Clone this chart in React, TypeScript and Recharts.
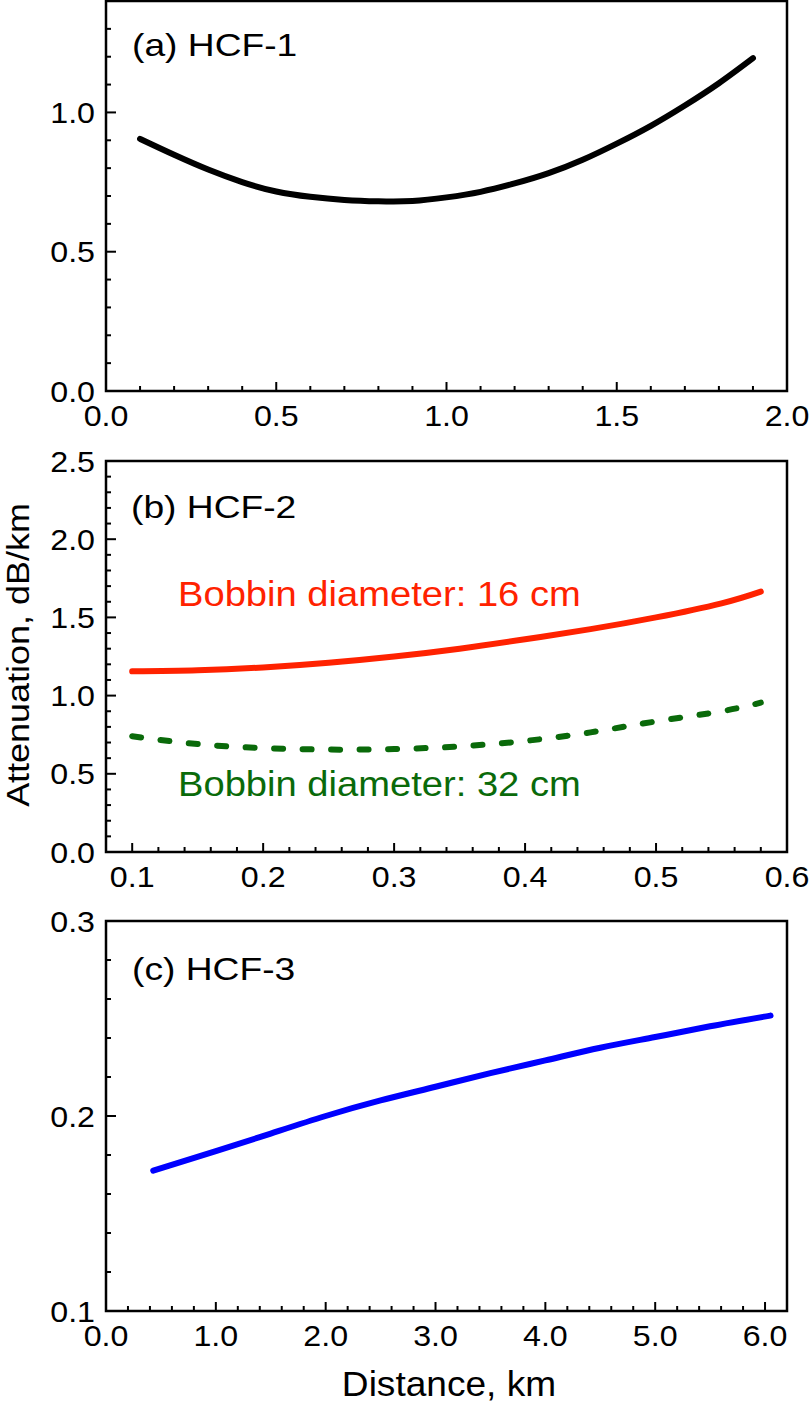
import { LineChart, Line, XAxis, YAxis, ReferenceArea } from "recharts";

const FONT = '"Liberation Sans", Arial, Helvetica, sans-serif';

// (a) HCF-1
const hcf1Distance = [0.1, 0.2, 0.3, 0.4, 0.5, 0.6, 0.7, 0.8, 0.9, 1.0, 1.1, 1.2, 1.3, 1.4, 1.5, 1.6, 1.7, 1.8, 1.9];
const hcf1Atten = [0.905, 0.848, 0.795, 0.75, 0.716, 0.697, 0.686, 0.681, 0.682, 0.695, 0.715, 0.745, 0.782, 0.83, 0.888, 0.952, 1.025, 1.105, 1.195];

// (b) HCF-2
const hcf2Distance = [0.1, 0.15, 0.2, 0.25, 0.3, 0.35, 0.4, 0.45, 0.5, 0.55, 0.58];
const bobbin16 = [1.155, 1.162, 1.18, 1.21, 1.25, 1.3, 1.36, 1.425, 1.5, 1.59, 1.665];
const bobbin32 = [0.74, 0.69, 0.665, 0.655, 0.658, 0.675, 0.71, 0.765, 0.835, 0.9, 0.955];

// (c) HCF-3
const hcf3Distance = [0.43, 1.0, 1.5, 2.0, 2.5, 3.0, 3.5, 4.0, 4.5, 5.0, 5.5, 6.05];
const hcf3Atten = [0.172, 0.182, 0.191, 0.2, 0.208, 0.215, 0.222, 0.2285, 0.235, 0.2405, 0.246, 0.2515];

// ticks (minor + major)
const xTicksA = [0, 0.1, 0.2, 0.3, 0.4, 0.5, 0.6, 0.7, 0.8, 0.9, 1.0, 1.1, 1.2, 1.3, 1.4, 1.5, 1.6, 1.7, 1.8, 1.9, 2.0];
const yTicksA = [0, 0.1, 0.2, 0.3, 0.4, 0.5, 0.6, 0.7, 0.8, 0.9, 1.0, 1.1, 1.2, 1.3];
const xTicksB = [0.1, 0.12, 0.14, 0.16, 0.18, 0.2, 0.22, 0.24, 0.26, 0.28, 0.3, 0.32, 0.34, 0.36, 0.38, 0.4, 0.42, 0.44, 0.46, 0.48, 0.5, 0.52, 0.54, 0.56, 0.58, 0.6];
const yTicksB = [0, 0.1, 0.2, 0.3, 0.4, 0.5, 0.6, 0.7, 0.8, 0.9, 1.0, 1.1, 1.2, 1.3, 1.4, 1.5, 1.6, 1.7, 1.8, 1.9, 2.0, 2.1, 2.2, 2.3, 2.4, 2.5];
const xTicksC = [0, 0.2, 0.4, 0.6, 0.8, 1, 1.2, 1.4, 1.6, 1.8, 2, 2.2, 2.4, 2.6, 2.8, 3, 3.2, 3.4, 3.6, 3.8, 4, 4.2, 4.4, 4.6, 4.8, 5, 5.2, 5.4, 5.6, 5.8, 6];
const yTicksC = [0.1, 0.12, 0.14, 0.16, 0.18, 0.2, 0.22, 0.24, 0.26, 0.28, 0.3];

const dataA = hcf1Distance.map((d, i) => ({ d, a: hcf1Atten[i] }));
const dataB = hcf2Distance.map((d, i) => ({ d, r: bobbin16[i], g: bobbin32[i] }));
const dataC = hcf3Distance.map((d, i) => ({ d, a: hcf3Atten[i] }));

const RED = "#ff2200";
const GREEN = "#0a6a0a";

const isMajor = (v: number, step: number) => Math.abs(v / step - Math.round(v / step)) < 1e-6;

// text that is a little wider than the installed Arial clone, like the original
function Wide({ x, y, sx, size, anchor = "start", fill = "#000", rotate = 0, children }: any) {
  const rot = rotate ? ` rotate(${rotate})` : "";
  return (
    <text
      transform={`translate(${x},${y})${rot} scale(${sx},1)`}
      textAnchor={anchor}
      fontSize={size}
      fontFamily={FONT}
      fill={fill}
    >
      {children}
    </text>
  );
}

function XTick(props: any) {
  const { x, y, payload, step } = props;
  const major = isMajor(payload.value, step);
  return (
    <g>
      <line x1={x} x2={x} y1={y} y2={y - (major ? 9 : 5)} stroke="#000" strokeWidth={2} />
      {major && (
        <Wide x={x} y={y + 35} sx={1.11} size={29} anchor="middle">
          {payload.value.toFixed(1)}
        </Wide>
      )}
    </g>
  );
}

function YTick(props: any) {
  const { x, y, payload, step } = props;
  const major = isMajor(payload.value, step);
  return (
    <g>
      <line x1={x} x2={x + (major ? 10 : 5)} y1={y} y2={y} stroke="#000" strokeWidth={2} />
      {major && (
        <Wide x={x - 11} y={y + 10.5} sx={1.11} size={29} anchor="end">
          {payload.value.toFixed(1)}
        </Wide>
      )}
    </g>
  );
}

function Panel({ top, height, margin, data, xDomain, yDomain, xTicks, yTicks, xStep, yStep, children }: any) {
  return (
    <div style={{ position: "absolute", left: 0, top }}>
      <LineChart width={810} height={height} data={data} margin={margin}>
        <XAxis
          type="number"
          dataKey="d"
          domain={xDomain}
          ticks={xTicks}
          interval={0}
          tickSize={0}
          tickMargin={0}
          tickLine={false}
          axisLine={false}
          height={40}
          tick={(p: any) => <XTick {...p} step={xStep} />}
        />
        <YAxis
          type="number"
          domain={yDomain}
          ticks={yTicks}
          interval={0}
          tickSize={0}
          tickMargin={0}
          tickLine={false}
          axisLine={false}
          width={100}
          tick={(p: any) => <YTick {...p} step={yStep} />}
        />
        <ReferenceArea x1={xDomain[0]} x2={xDomain[1]} y1={yDomain[0]} y2={yDomain[1]} fill="none" fillOpacity={0} stroke="#000" strokeOpacity={1} strokeWidth={2.5} />
        {children}
      </LineChart>
    </div>
  );
}

export default function App() {
  return (
    <div style={{ position: "absolute", left: 0, top: 0, width: 810, height: 1404, background: "#fff" }}>
      <Panel
        top={0}
        height={440}
        margin={{ top: 1, right: 23, bottom: 9, left: 6 }}
        data={dataA}
        xDomain={[0, 2]}
        yDomain={[0, 1.4]}
        xTicks={xTicksA}
        yTicks={yTicksA}
        xStep={0.5}
        yStep={0.5}
      >
        <Line type="natural" dataKey="a" stroke="#000" strokeWidth={6} strokeLinecap="round" dot={false} isAnimationActive={false} />
      </Panel>
      <Panel
        top={440}
        height={460}
        margin={{ top: 21, right: 23, bottom: 8, left: 6 }}
        data={dataB}
        xDomain={[0.08, 0.6]}
        yDomain={[0, 2.5]}
        xTicks={xTicksB}
        yTicks={yTicksB}
        xStep={0.1}
        yStep={0.5}
      >
        <Line type="natural" dataKey="r" stroke={RED} strokeWidth={6} strokeLinecap="round" dot={false} isAnimationActive={false} />
        <Line type="natural" dataKey="g" stroke={GREEN} strokeWidth={6} strokeLinecap="round" strokeDasharray="9 19.5" dot={false} isAnimationActive={false} />
      </Panel>
      <Panel
        top={900}
        height={460}
        margin={{ top: 21, right: 23, bottom: 9, left: 6 }}
        data={dataC}
        xDomain={[0, 6.2]}
        yDomain={[0.1, 0.3]}
        xTicks={xTicksC}
        yTicks={yTicksC}
        xStep={1}
        yStep={0.1}
      >
        <Line type="natural" dataKey="a" stroke="#0000ff" strokeWidth={6} strokeLinecap="round" dot={false} isAnimationActive={false} />
      </Panel>
      <svg width={810} height={1404} style={{ position: "absolute", left: 0, top: 0, pointerEvents: "none" }}>
        <Wide x={132} y={56} sx={1.2} size={31}>(a) HCF-1</Wide>
        <Wide x={131} y={518} sx={1.2} size={31}>(b) HCF-2</Wide>
        <Wide x={132} y={980} sx={1.2} size={31}>(c) HCF-3</Wide>
        <Wide x={178} y={606} sx={1.09} size={35} fill={RED}>Bobbin diameter: 16 cm</Wide>
        <Wide x={178} y={796} sx={1.09} size={35} fill={GREEN}>Bobbin diameter: 32 cm</Wide>
        <Wide x={449} y={1396} sx={1.06} size={35} anchor="middle">Distance, km</Wide>
        <Wide x={29} y={655} sx={1.16} size={31} anchor="middle" rotate={-90}>Attenuation, dB/km</Wide>
      </svg>
    </div>
  );
}
